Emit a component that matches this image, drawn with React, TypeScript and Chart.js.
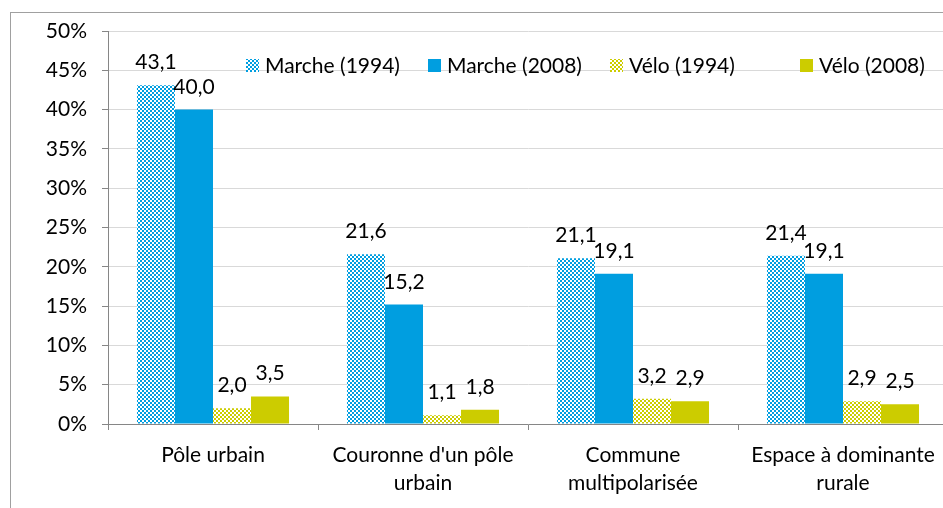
import React, { useEffect, useRef } from "react";
import { Chart, registerables } from "chart.js";

Chart.register(...registerables);

const categories: (string | string[])[] = [
  "Pôle urbain",
  ["Couronne d'un pôle", "urbain"],
  ["Commune", "multipolarisée"],
  ["Espace à dominante", "rurale"],
];
const seriesNames = ["Marche (1994)", "Marche (2008)", "Vélo (1994)", "Vélo (2008)"];
const marche1994 = [43.1, 21.6, 21.1, 21.4];
const marche2008 = [40.0, 15.2, 19.1, 19.1];
const velo1994 = [2.0, 1.1, 3.2, 2.9];
const velo2008 = [3.5, 1.8, 2.9, 2.5];
const yTicks = [0, 5, 10, 15, 20, 25, 30, 35, 40, 45, 50];

const BLUE = "rgb(0,158,224)";
const GREEN = "rgb(204,204,0)";
const FONT = "Lato";
const FS = 21;

function makePattern(color: string): CanvasPattern | string {
  const c = document.createElement("canvas");
  c.width = 4;
  c.height = 4;
  const g = c.getContext("2d");
  if (!g) return color;
  g.fillStyle = "#ffffff";
  g.fillRect(0, 0, 4, 4);
  g.fillStyle = color;
  g.fillRect(0, 0, 2, 2);
  g.fillRect(2, 2, 2, 2);
  const p = g.createPattern(c, "repeat");
  return p || color;
}

export default function App() {
  const ref = useRef<HTMLCanvasElement | null>(null);

  useEffect(() => {
    const canvas = ref.current;
    if (!canvas) return;
    const fills = [makePattern(BLUE), BLUE, makePattern(GREEN), GREEN];
    const values = [marche1994, marche2008, velo1994, velo2008];

    const labelsPlugin = {
      id: "valueLabels",
      afterDatasetsDraw(chart: any) {
        const ctx = chart.ctx;
        ctx.save();
        ctx.font = `${FS}px ${FONT}`;
        ctx.fillStyle = "#000";
        ctx.textAlign = "center";
        ctx.textBaseline = "alphabetic";
        chart.data.datasets.forEach((ds: any, i: number) => {
          const meta = chart.getDatasetMeta(i);
          meta.data.forEach((el: any, j: number) => {
            const v = ds.data[j] as number;
            ctx.fillText(v.toFixed(1).replace(".", ","), el.x, el.y - 16);
          });
        });
        ctx.restore();
      },
    };

    const legendPlugin = {
      id: "customLegend",
      afterDraw(chart: any) {
        const ctx = chart.ctx;
        ctx.save();
        const xs = [246, 428, 610, 800];
        ctx.font = `${FS}px ${FONT}`;
        ctx.textBaseline = "middle";
        ctx.textAlign = "left";
        seriesNames.forEach((name, i) => {
          ctx.fillStyle = fills[i] as any;
          ctx.fillRect(xs[i], 59, 13, 13);
          ctx.fillStyle = "#000";
          ctx.fillText(name, xs[i] + 19, 66);
        });
        ctx.restore();
      },
    };

    const borderPlugin = {
      id: "outerBorder",
      beforeDraw(chart: any) {
        const ctx = chart.ctx;
        ctx.save();
        ctx.fillStyle = "#fff";
        ctx.fillRect(0, 0, chart.width, chart.height);
        ctx.strokeStyle = "#a0a0a0";
        ctx.lineWidth = 1;
        ctx.strokeRect(10.5, 12.5, 2000, 2000);
        ctx.restore();
      },
    };

    const chart = new Chart(canvas, {
      type: "bar",
      data: {
        labels: categories,
        datasets: seriesNames.map((name, i) => ({
          label: name,
          data: values[i],
          backgroundColor: fills[i] as any,
          borderWidth: 0,
          categoryPercentage: 0.724,
          barPercentage: 1,
        })),
      },
      options: {
        responsive: false,
        animation: false,
        layout: { padding: { left: 0, right: 2, top: 31, bottom: 0 } },
        plugins: {
          legend: { display: false },
          tooltip: { enabled: false },
        },
        scales: {
          x: {
            grid: {
              display: true,
              drawOnChartArea: false,
              drawTicks: true,
              tickLength: 6,
              tickColor: "#868686",
              offset: true,
            },
            border: { color: "#868686", width: 1 },
            ticks: {
              color: "#000",
              font: { family: FONT, size: FS, lineHeight: 28 / FS },
              padding: 11,
              maxRotation: 0,
              autoSkip: false,
            },
            afterFit(scale: any) {
              scale.height = 84;
            },
          },
          y: {
            min: 0,
            max: 50,
            afterBuildTicks(scale: any) {
              scale.ticks = yTicks.map((v) => ({ value: v }));
            },
            grid: {
              color: "#d9d9d9",
              tickLength: 6,
              tickColor: "#868686",
            },
            border: { color: "#868686", width: 1 },
            ticks: {
              color: "#000",
              font: { family: FONT, size: FS },
              padding: 15,
              callback: (v: any) => `${v}%`,
            },
            afterFit(scale: any) {
              scale.width = 108;
            },
          },
        },
      },
      plugins: [borderPlugin, labelsPlugin, legendPlugin],
    });
    return () => chart.destroy();
  }, []);

  return (
    <div
      style={{
        position: "absolute",
        left: 0,
        top: 0,
        width: 943,
        height: 508,
        overflow: "hidden",
        background: "#fff",
      }}
    >
      <canvas ref={ref} width={950} height={508} style={{ width: 950, height: 508, display: "block" }} />
    </div>
  );
}
